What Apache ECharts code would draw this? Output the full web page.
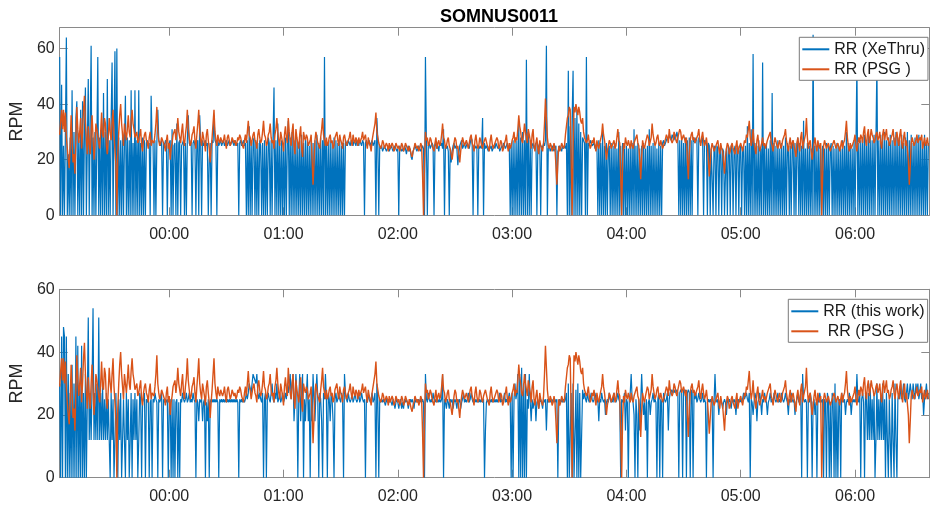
<!DOCTYPE html>
<html>
<head>
<meta charset="utf-8">
<script src="https://cdn.jsdelivr.net/npm/echarts@6/dist/echarts.min.js"></script>
<style>
html,body{margin:0;padding:0;background:#fff;}
#chart{width:930px;height:508px;}
</style>
</head>
<body>
<div id="chart"></div>
<script>
// ---- time base (minutes relative to 00:00), one sample per half minute ----
var startMinute = -57.5;
var stepMinute = 0.5;
var axisMinMinute = -57.5;
var axisMaxMinute = 399;
var xTickMinutes = [0, 60, 120, 180, 240, 300, 360];
var yTicksTop = [0, 20, 40, 60];
var yTicksBottom = [0, 20, 40, 60];

// ---- RR (PSG) reference, breaths per minute ----
var rrPSG = [
29,34,38,31,38,30,37,28,24,20,17,25,36,27,19,22,15,28,39,31,26,30,35,24,30,38,43,33,27,22,32,26,22,30,36,28,20,25,33,31,
31,26,24,30,37,29,28,35,33,25,22,28,35,30,27,33,38,29,24,18,0,22,30,36,40,33,29,25,33,30,27,31,36,30,28,34,38,33,31,28,
28,30,26,27,29,31,25,23,27,29,30,27,26,24,28,30,25,27,27,26,29,33,39,30,27,25,26,28,28,26,25,23,27,29,24,26,20,24,26,29,
29,31,27,30,35,30,28,26,30,33,27,25,29,32,38,31,28,25,26,29,30,32,27,24,29,33,38,30,27,25,30,28,26,23,29,31,27,24,19,24,
28,33,38,30,27,25,29,27,26,28,28,26,27,29,26,24,28,29,27,25,26,28,28,26,27,25,26,28,27,29,28,26,26,24,27,29,26,30,34,29,
28,25,27,29,30,27,26,24,29,31,28,26,27,30,34,29,28,25,26,29,30,33,28,26,27,24,29,31,35,30,27,25,30,28,26,23,29,32,28,26,
35,30,27,25,30,33,25,22,31,28,26,24,29,32,24,21,30,28,27,29,28,25,25,27,29,20,11,19,27,30,30,26,26,24,28,31,35,29,27,25,
28,25,26,28,29,26,27,24,25,28,28,30,27,25,29,27,26,24,28,29,27,25,25,27,28,30,27,25,29,27,26,28,27,25,28,26,26,28,30,27,
27,29,26,24,28,26,25,23,27,29,29,33,37,30,28,26,26,24,25,27,26,24,24,26,25,23,26,24,24,26,25,23,24,26,26,24,25,23,24,26,
25,23,24,26,26,24,23,25,25,22,21,23,24,26,26,24,25,23,24,26,25,14,0,18,30,27,28,25,26,28,27,25,25,23,26,28,24,26,27,25,
26,29,33,28,27,24,25,27,28,25,24,22,20,23,26,28,27,24,25,22,19,23,26,28,28,25,25,27,27,24,26,28,29,26,25,23,27,29,26,24,
25,28,27,25,24,26,26,28,28,25,25,23,27,29,26,24,24,26,26,28,27,24,25,27,26,23,24,26,27,29,25,23,26,24,25,27,28,30,26,28,
27,31,36,32,30,27,26,29,33,30,28,26,31,29,27,24,29,31,25,23,26,28,24,22,27,25,25,23,26,33,42,35,28,25,24,26,25,23,24,26,
24,18,11,19,25,23,24,26,26,24,25,29,32,35,36,39,38,20,0,25,39,37,40,38,36,39,37,34,33,35,30,28,28,26,27,29,26,24,25,27,
26,28,25,23,27,25,24,26,26,29,33,29,27,24,20,23,25,27,26,24,24,26,27,24,25,28,31,27,26,14,0,19,26,24,28,26,25,27,27,24,
27,25,24,26,26,28,29,26,25,20,13,21,27,25,24,26,26,29,28,25,25,28,33,29,27,25,26,28,29,26,25,27,27,24,24,26,26,29,28,26,
31,28,28,26,27,30,29,27,26,28,28,31,30,27,27,29,29,26,28,20,13,22,27,29,30,27,28,26,26,28,29,31,27,25,28,30,27,25,26,28,
25,20,14,19,24,26,26,23,23,25,25,27,24,22,26,24,23,19,15,21,24,26,25,22,23,25,26,24,24,22,25,27,22,24,24,26,26,23,25,27,
26,29,28,31,34,28,25,27,31,26,24,22,27,29,25,23,23,26,28,25,26,24,24,27,27,29,30,26,25,23,26,28,28,25,24,26,27,24,25,27,
27,29,31,27,25,23,26,28,24,26,27,25,23,21,26,28,25,23,28,30,24,26,26,29,35,28,24,26,27,23,20,23,26,28,25,23,27,25,24,26,
0,14,25,27,27,24,24,26,26,23,23,25,25,27,27,24,24,26,26,23,25,27,24,26,27,30,34,28,25,23,26,24,24,26,27,29,25,23,26,28,
26,29,28,26,30,32,27,25,29,31,26,28,31,29,28,26,27,29,30,27,28,30,26,24,29,31,27,29,31,27,28,25,26,28,29,31,27,25,28,30,
27,25,29,31,26,24,28,30,25,27,27,20,11,18,26,28,28,25,25,27,29,26,26,28,27,29,24,26,28,25,26,28,25
];

// ---- RR (XeThru) ----
var rrXeThru = [
57,0,47,0,25,0,30,64,0,22,0,28,0,45,0,30,0,35,41,0,27,0,38,0,41,0,30,46,0,25,49,0,33,61,0,28,0,30,0,26,
57,0,28,0,33,0,44,0,30,0,49,0,27,0,35,55,0,29,59,0,60,0,28,0,27,0,30,0,26,43,0,28,0,27,0,45,0,26,0,45,
0,27,0,45,0,26,0,28,0,27,0,26,27,25,26,0,43,27,26,0,27,0,26,38,27,26,25,27,0,26,25,27,26,0,25,26,27,0,31,0,
25,26,0,33,0,26,27,0,25,26,27,0,26,0,27,36,26,25,27,0,26,27,25,0,26,27,0,36,26,0,27,25,26,27,25,26,0,20,26,0,
27,26,36,27,26,0,27,25,26,27,25,26,27,25,26,27,25,26,27,25,26,27,26,25,27,26,25,26,0,26,27,25,26,27,25,26,0,27,0,32,
0,27,0,26,28,0,27,0,26,0,27,25,0,26,0,27,0,25,0,28,26,0,27,0,28,46,0,27,0,33,0,26,0,27,0,26,0,28,0,27,
34,0,28,0,30,0,27,0,28,0,26,0,27,0,29,0,26,0,28,0,27,0,25,0,28,0,26,0,27,0,29,0,26,0,28,0,27,0,57,0,
27,0,26,0,27,0,26,0,28,0,27,0,26,0,27,0,25,0,26,0,27,26,25,27,26,25,27,26,25,27,26,25,27,26,25,27,26,25,27,26,
0,26,27,25,26,27,25,26,27,25,26,27,0,35,27,0,25,24,25,23,24,25,24,23,24,25,23,24,25,24,23,24,25,24,23,24,0,25,24,23,
24,23,25,24,22,24,25,23,24,21,20,23,24,25,24,23,24,25,24,23,24,25,24,0,57,26,0,25,26,24,25,26,25,0,25,26,24,25,23,26,
25,26,24,31,0,25,24,25,23,0,24,19,23,25,26,24,25,24,18,22,25,26,27,24,25,26,24,25,26,25,24,26,28,27,0,25,24,25,24,0,
25,24,25,24,35,0,26,24,25,24,23,25,24,25,23,24,25,24,26,25,24,25,23,24,25,24,26,25,24,25,26,24,25,0,26,0,27,0,26,0,
27,0,33,0,28,0,30,0,27,0,56,0,30,0,27,0,25,26,24,25,26,0,24,25,26,0,25,24,26,25,27,61,0,24,25,23,24,25,24,23,
24,25,0,23,24,25,24,23,25,24,25,24,26,0,52,0,32,0,35,52,0,35,0,38,0,33,0,30,0,28,27,26,0,57,0,26,25,27,26,25,
25,26,24,25,26,0,27,0,26,0,30,0,25,0,26,0,24,25,0,26,0,25,0,26,0,24,0,30,0,25,0,26,0,24,0,25,0,24,0,25,
0,26,0,31,0,25,0,26,0,24,0,25,0,26,0,24,0,25,0,31,0,25,0,26,0,25,0,24,0,26,0,25,0,26,27,25,26,27,28,27,
29,28,27,29,28,27,29,28,30,28,0,27,0,28,0,26,0,28,0,27,0,28,0,27,0,28,27,26,28,27,0,28,27,26,27,28,0,27,26,27,
0,26,25,0,24,14,0,25,24,0,25,24,0,23,25,0,24,23,0,15,24,0,25,24,0,25,24,0,23,25,0,24,25,0,23,25,0,24,25,0,
25,0,32,0,26,0,31,0,58,0,26,0,25,0,27,0,24,0,55,0,25,0,26,0,24,0,27,0,44,0,26,0,25,0,27,0,24,0,26,0,
25,0,28,0,26,24,0,25,0,24,27,0,26,0,25,28,0,26,0,25,0,34,0,24,0,26,0,25,0,24,0,65,0,25,0,24,0,26,0,24,
0,25,0,24,0,26,0,25,0,24,26,0,25,0,24,0,26,0,25,0,24,0,27,0,25,0,30,0,26,0,25,0,24,0,27,0,25,55,0,26,
0,27,0,28,0,29,0,27,0,30,0,28,0,27,0,29,0,28,55,0,27,0,29,0,28,0,30,0,27,0,28,0,29,0,27,0,28,0,30,0,
28,0,27,0,29,0,26,0,28,0,30,0,27,0,29,0,26,0,28,0,27,0,29,0,28,0,26,0,29,0,27,0,26
];

// ---- RR (this work) ----
var rrThisWork = [
30,0,45,0,48,45,0,45,0,33,0,27,0,36,0,30,0,45,0,42,0,30,0,42,0,27,0,33,0,25,51,12,27,12,30,54,12,27,12,30,
12,51,12,27,12,30,12,25,12,27,12,25,12,0,27,12,25,0,12,27,12,0,25,12,27,0,12,25,12,0,27,12,25,0,12,27,0,25,12,27,
12,25,0,12,27,25,0,24,25,27,0,25,24,25,0,24,25,0,25,24,27,25,24,0,25,24,25,27,0,25,24,25,24,25,0,24,25,0,25,0,
25,0,24,25,0,24,0,25,24,27,25,24,25,27,24,25,27,24,25,24,27,25,24,0,25,24,18,25,24,25,18,24,25,0,24,18,25,0,24,25,
24,25,24,25,24,25,24,0,25,24,25,24,25,24,25,24,25,24,25,24,25,24,25,24,25,24,25,24,0,25,24,25,24,25,24,25,27,25,27,30,
30,27,30,33,33,33,30,33,27,25,27,25,24,27,0,25,27,0,25,27,25,24,27,30,25,24,27,25,30,24,25,27,24,25,27,24,25,27,25,30,
27,30,33,25,30,33,18,25,33,27,0,25,33,18,27,33,0,25,18,27,33,18,25,0,27,18,33,25,18,27,33,25,0,27,25,18,0,27,25,33,
25,0,27,25,18,27,25,18,0,25,27,24,25,27,25,24,27,25,0,33,27,25,24,27,25,24,25,27,24,25,27,25,24,25,27,24,25,27,25,24,
25,0,25,24,27,25,24,25,27,24,25,27,0,30,25,0,25,24,25,24,25,24,23,25,24,25,24,25,24,23,25,24,22,24,25,24,22,24,25,22,
24,22,25,24,25,24,22,24,25,24,25,24,22,25,24,25,24,25,24,25,24,25,24,0,33,25,24,27,25,24,25,24,27,25,24,25,24,25,24,25,
24,25,33,0,25,24,22,25,24,22,25,24,25,22,24,25,24,22,25,24,25,22,24,25,27,24,25,24,25,27,24,25,27,25,24,25,24,25,24,25,
24,25,24,25,24,25,0,15,24,25,24,25,24,25,24,25,24,25,24,25,24,25,27,24,25,24,25,27,24,25,24,25,27,25,0,27,0,25,30,25,
27,33,0,33,0,35,0,30,0,33,0,25,22,33,24,18,25,22,24,25,18,24,25,22,24,25,24,22,25,24,25,15,25,24,25,24,25,24,25,24,
25,24,25,0,24,25,24,25,24,25,24,25,27,0,30,0,0,27,0,30,0,0,28,0,30,0,27,0,0,28,25,27,25,24,27,25,24,25,27,25,
24,25,27,25,24,25,18,25,24,27,25,24,25,20,24,25,24,27,25,24,25,24,27,25,24,25,27,25,24,0,25,24,25,27,15,25,24,0,25,27,
33,25,24,20,0,25,20,0,25,15,24,33,25,20,24,15,25,0,24,25,20,24,25,27,24,25,24,0,25,27,0,25,24,0,27,25,24,25,27,15,
25,27,28,27,28,27,28,27,28,27,0,27,28,27,0,28,27,28,0,27,28,27,0,28,27,0,27,25,27,24,25,27,25,24,25,27,24,25,24,0,
24,25,24,25,24,25,0,24,33,25,24,25,20,24,25,24,22,24,25,24,20,25,24,25,24,22,25,24,25,24,20,25,24,25,24,25,24,25,27,25,
25,27,25,24,27,0,25,24,20,24,27,25,18,24,25,27,24,20,25,24,27,25,24,20,24,25,27,24,25,24,27,25,24,25,27,24,25,24,27,25,
24,25,27,25,24,20,25,24,27,25,24,25,20,24,25,27,24,25,27,0,33,25,24,25,24,0,25,24,27,25,0,24,25,20,24,0,25,24,27,25,
24,25,0,25,24,0,27,25,0,24,0,27,25,0,30,0,25,0,24,25,0,27,25,24,25,20,24,25,24,27,25,20,24,25,24,25,24,33,25,24,
27,0,25,27,24,0,27,25,12,27,12,30,12,25,12,27,0,12,30,12,25,12,27,12,30,12,25,0,27,12,0,25,12,0,27,12,0,30,12,0,
25,27,25,30,25,27,30,25,24,27,30,25,27,30,27,25,30,27,25,30,27,30,25,27,30,25,27,20,25,27,30,25,27
];

var titleText = 'SOMNUS0011';
var yName = 'RPM';
var nameXeThru = 'RR (XeThru)';
var namePSGTop = 'RR (PSG )';
var nameThisWork = 'RR (this work)';
var namePSGBottom = ' RR (PSG )';

function toPairs(arr) {
  return arr.map(function (v, i) { return [startMinute + i * stepMinute, v]; });
}
function fmtTime(v) {
  var m = Math.round(v);
  var h = Math.floor(m / 60);
  var mm = m - h * 60;
  h = ((h % 24) + 24) % 24;
  return (h < 10 ? '0' : '') + h + ':' + (mm < 10 ? '0' : '') + mm;
}

var FONT = "'Liberation Sans', Arial, Helvetica, sans-serif";
var AXIS_COLOR = '#8a8a8a';
var TEXT_COLOR = '#262626';
var BLUE = '#0072BD';
var ORANGE = '#D95319';

var gridL = 58.5, gridW = 870.8;
var grids = [
  { left: gridL, top: 27.7, width: gridW, height: 187.6 },
  { left: gridL, top: 289.3, width: gridW, height: 188.4 }
];

function xAxisFor(gridIndex, position, showLabels) {
  return {
    type: 'value', gridIndex: gridIndex, position: position,
    min: axisMinMinute, max: axisMaxMinute,
    axisLine: { show: true, onZero: false, lineStyle: { color: AXIS_COLOR, width: 1 } },
    axisTick: { show: true, inside: true, length: 8, customValues: xTickMinutes, lineStyle: { color: AXIS_COLOR } },
    axisLabel: { show: showLabels, customValues: xTickMinutes, formatter: fmtTime,
      color: TEXT_COLOR, fontFamily: FONT, fontSize: 16, margin: 11 },
    splitLine: { show: false }
  };
}
function yAxisFor(gridIndex, position, max, ticks, showLabels) {
  var ax = {
    type: 'value', gridIndex: gridIndex, position: position,
    min: 0, max: max,
    axisLine: { show: true, onZero: false, lineStyle: { color: AXIS_COLOR, width: 1 } },
    axisTick: { show: true, inside: true, length: 8, customValues: ticks, lineStyle: { color: AXIS_COLOR } },
    axisLabel: { show: showLabels, customValues: ticks, color: TEXT_COLOR, fontFamily: FONT, fontSize: 16, margin: 5 },
    splitLine: { show: false }
  };
  if (showLabels) {
    ax.name = yName;
    ax.nameLocation = 'middle';
    ax.nameRotate = 90;
    ax.nameGap = 26;
    ax.nameTextStyle = { color: TEXT_COLOR, fontFamily: FONT, fontSize: 18 };
  }
  return ax;
}

function lineSeries(name, data, xi, yi, color, width, z) {
  return {
    name: name, type: 'line', xAxisIndex: xi, yAxisIndex: yi,
    data: toPairs(data), symbol: 'none', showSymbol: false,
    lineStyle: { color: color, width: width }, itemStyle: { color: color },
    z: z, silent: true, clip: true
  };
}

function legendFor(names, left, top) {
  return {
    data: names, orient: 'vertical', left: left, top: top,
    icon: 'rect', itemWidth: 27, itemHeight: 2, itemGap: 2,
    padding: [3, 3, 2, 3],
    backgroundColor: '#ffffff', borderColor: '#7a7a7a', borderWidth: 1,
    textStyle: { color: '#1a1a1a', fontFamily: FONT, fontSize: 16, lineHeight: 18 },
    selectedMode: false, z: 10
  };
}

var chart = echarts.init(document.getElementById('chart'), null, { renderer: 'canvas' });
chart.setOption({
  animation: false,
  backgroundColor: '#ffffff',
  title: {
    text: titleText, left: 494, top: 3, textAlign: 'center',
    textStyle: { fontFamily: FONT, fontSize: 18, fontWeight: 'bold', color: '#000' }
  },
  legend: [
    legendFor([nameXeThru, namePSGTop], 799.3, 37.3),
    legendFor([nameThisWork, namePSGBottom], 788.3, 299.3)
  ],
  grid: grids,
  xAxis: [
    xAxisFor(0, 'bottom', true),
    xAxisFor(0, 'top', false),
    xAxisFor(1, 'bottom', true),
    xAxisFor(1, 'top', false)
  ],
  yAxis: [
    yAxisFor(0, 'left', 67.5, yTicksTop, true),
    yAxisFor(0, 'right', 67.5, yTicksTop, false),
    yAxisFor(1, 'left', 60, yTicksBottom, true),
    yAxisFor(1, 'right', 60, yTicksBottom, false)
  ],
  series: [
    lineSeries(nameXeThru, rrXeThru, 0, 0, BLUE, 1.2, 2),
    lineSeries(namePSGTop, rrPSG, 0, 0, ORANGE, 1.4, 3),
    lineSeries(nameThisWork, rrThisWork, 2, 2, BLUE, 1.2, 2),
    lineSeries(namePSGBottom, rrPSG, 2, 2, ORANGE, 1.4, 3)
  ]
});
</script>
</body>
</html>
